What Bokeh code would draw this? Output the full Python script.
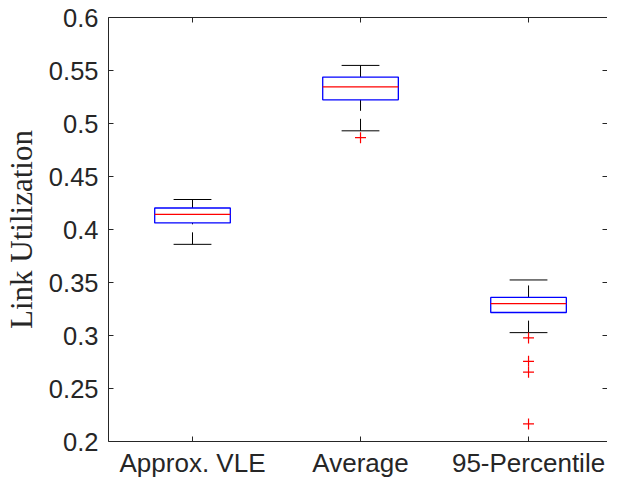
from bokeh.plotting import figure
from bokeh.models import (LinearAxis, FixedTicker, Range1d, CustomJSTickFormatter,
                          ColumnDataSource)
from bokeh.embed import file_html
from bokeh.resources import INLINE

categories = ["Approx. VLE", "Average", "95-Percentile"]
positions = [1, 2, 3]
q1 = [0.4062, 0.5223, 0.3217]
median = [0.4142, 0.5346, 0.3300]
q3 = [0.4203, 0.5438, 0.3359]
lower_whisker = [0.3860, 0.4931, 0.3027]
upper_whisker = [0.4283, 0.5548, 0.3524]
outlier_pos = [2, 3, 3, 3, 3]
outlier_val = [0.4866, 0.2977, 0.2756, 0.2654, 0.2166]
y_ticks = [0.2, 0.25, 0.3, 0.35, 0.4, 0.45, 0.5, 0.55, 0.6]

BOX_W = 0.45
CAP_W = 0.225
AX = "#262626"

p = figure(width=607, height=481, output_backend="svg", toolbar_location=None,
           x_range=Range1d(0.5, 3.47), y_range=Range1d(0.2, 0.6),
           min_border_left=108, min_border_right=0, min_border_top=17,
           min_border_bottom=40, x_axis_type=None, y_axis_type=None)
p.outline_line_color = None
p.grid.visible = False
p.background_fill_color = "white"
p.border_fill_color = "white"

xt = FixedTicker(ticks=positions)
yt = FixedTicker(ticks=y_ticks)
xfmt = CustomJSTickFormatter(args=dict(names=categories),
                             code="return names[Math.round(tick) - 1];")
yfmt = CustomJSTickFormatter(code="return String(Math.round(tick * 100) / 100);")


def style(ax, labels, size="25px"):
    ax.axis_line_color = AX
    ax.axis_line_width = 1
    ax.major_tick_line_color = AX
    ax.major_tick_in = 5
    ax.major_tick_out = 0
    ax.minor_tick_line_color = None
    if labels:
        ax.major_label_text_font = "Liberation Sans"
        ax.major_label_text_font_size = size
        ax.major_label_text_color = AX
    else:
        ax.major_label_text_font_size = "0px"
        ax.major_label_text_color = None
        ax.major_label_standoff = 0


bottom = LinearAxis(ticker=xt, formatter=xfmt)
style(bottom, True, "26px")
bottom.major_label_standoff = 6
p.add_layout(bottom, "below")

left = LinearAxis(ticker=yt, formatter=yfmt, axis_label="Link Utilization")
style(left, True, "25.5px")
left.major_label_standoff = 10
left.axis_label_text_font = "Liberation Serif"
left.axis_label_text_font_size = "31px"
left.axis_label_text_font_style = "normal"
left.axis_label_text_color = AX
left.axis_label_standoff = 7
p.add_layout(left, "left")

top = LinearAxis(ticker=xt, formatter=xfmt)
style(top, False)
p.add_layout(top, "above")

right = LinearAxis(ticker=yt, formatter=yfmt)
style(right, False)
right.axis_line_color = None
p.add_layout(right, "right")

src = ColumnDataSource(dict(
    x=positions, q1=q1, med=median, q3=q3, lo=lower_whisker, hi=upper_whisker,
    xl=[v - BOX_W / 2 for v in positions], xr=[v + BOX_W / 2 for v in positions],
    cl=[v - CAP_W / 2 for v in positions], cr=[v + CAP_W / 2 for v in positions],
))

# whiskers (dashed, drawn from the lower value upward)
p.segment(x0="x", y0="q3", x1="x", y1="hi", source=src, line_color="black",
          line_width=1, line_dash="12 8")
p.segment(x0="x", y0="lo", x1="x", y1="q1", source=src, line_color="black",
          line_width=1, line_dash="12 8")
# caps
p.segment(x0="cl", y0="hi", x1="cr", y1="hi", source=src, line_color="black", line_width=1)
p.segment(x0="cl", y0="lo", x1="cr", y1="lo", source=src, line_color="black", line_width=1)
# boxes
p.quad(left="xl", right="xr", bottom="q1", top="q3", source=src, fill_color=None,
       line_color="blue", line_width=1.3)
# medians
p.segment(x0="xl", y0="med", x1="xr", y1="med", source=src, line_color="red", line_width=1.2)
# outliers
p.scatter(x=outlier_pos, y=outlier_val, marker="cross", size=11, line_color="red",
          line_width=1.2)

open("out.html", "w").write(file_html(p, INLINE))
